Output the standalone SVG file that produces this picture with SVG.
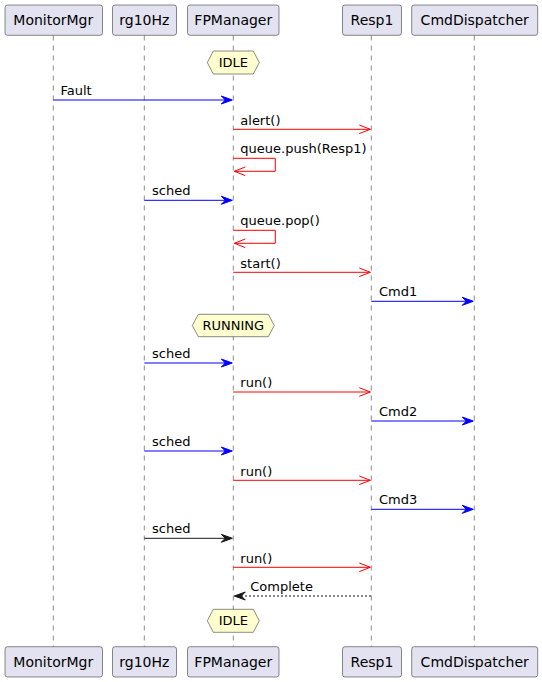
<svg xmlns="http://www.w3.org/2000/svg" width="542" height="682" viewBox="0 0 542 682">
<style>
.box{fill:#E2E2F0;stroke:#181818;stroke-width:0.5}
.life{stroke:#181818;stroke-width:0.5;stroke-dasharray:5,5;fill:none}
.pt{font-family:"DejaVu Sans",sans-serif;font-size:14px;fill:#000;text-anchor:middle}
.mt{font-family:"DejaVu Sans",sans-serif;font-size:13px;fill:#000}
.st{font-family:"DejaVu Sans",sans-serif;font-size:13px;fill:#000;text-anchor:middle}
.hex{fill:#FEFECE;stroke:#181818;stroke-width:0.5}
.blue{stroke:#0000FF;stroke-width:1;fill:none}
.red{stroke:#FF0000;stroke-width:1;fill:none}
.blk{stroke:#181818;stroke-width:1;fill:none}
.dash{stroke:#181818;stroke-width:1;fill:none;stroke-dasharray:2,2}
.bh{fill:#0000FF;stroke:#0000FF;stroke-width:1}
.kh{fill:#181818;stroke:#181818;stroke-width:1}
</style>
<g id="lifelines">
<line class="life" x1="53.3" y1="35.5" x2="53.3" y2="646.5"/>
<line class="life" x1="144.3" y1="35.5" x2="144.3" y2="646.5"/>
<line class="life" x1="233.3" y1="35.5" x2="233.3" y2="646.5"/>
<line class="life" x1="371.3" y1="35.5" x2="371.3" y2="646.5"/>
<line class="life" x1="474.3" y1="35.5" x2="474.3" y2="646.5"/>
</g>
<g id="MonitorMgr">
<rect class="box" x="5" y="5" width="97.5" height="30.3" rx="2.5"/><text class="pt" x="53.3" y="25">MonitorMgr</text>
<rect class="box" x="5" y="646.7" width="97.5" height="30.3" rx="2.5"/><text class="pt" x="53.3" y="666.7">MonitorMgr</text>
</g>
<g id="rg10Hz">
<rect class="box" x="112.5" y="5" width="64" height="30.3" rx="2.5"/><text class="pt" x="144.3" y="25">rg10Hz</text>
<rect class="box" x="112.5" y="646.7" width="64" height="30.3" rx="2.5"/><text class="pt" x="144.3" y="666.7">rg10Hz</text>
</g>
<g id="FPManager">
<rect class="box" x="187.5" y="5" width="91.5" height="30.3" rx="2.5"/><text class="pt" x="233.3" y="25">FPManager</text>
<rect class="box" x="187.5" y="646.7" width="91.5" height="30.3" rx="2.5"/><text class="pt" x="233.3" y="666.7">FPManager</text>
</g>
<g id="Resp1">
<rect class="box" x="342.5" y="5" width="59" height="30.3" rx="2.5"/><text class="pt" x="372" y="25">Resp1</text>
<rect class="box" x="342.5" y="646.7" width="59" height="30.3" rx="2.5"/><text class="pt" x="372" y="666.7">Resp1</text>
</g>
<g id="CmdDispatcher">
<rect class="box" x="411.7" y="5" width="126" height="30.3" rx="2.5"/><text class="pt" x="474.7" y="25">CmdDispatcher</text>
<rect class="box" x="411.7" y="646.7" width="126" height="30.3" rx="2.5"/><text class="pt" x="474.7" y="666.7">CmdDispatcher</text>
</g>
<g id="state-idle-1">
<polygon class="hex" points="207.3,62.5 213.3,51 253.3,51 259.3,62.5 253.3,74 213.3,74"/><text class="st" x="233.3" y="67">IDLE</text>
</g>
<g id="state-running">
<polygon class="hex" points="192.3,325.5 198.3,314.3 268.3,314.3 274.3,325.5 268.3,336.7 198.3,336.7"/><text class="st" x="233.3" y="330">RUNNING</text>
</g>
<g id="state-idle-2">
<polygon class="hex" points="207.3,620.8 213.3,609.3 253.3,609.3 259.3,620.8 253.3,632.3 213.3,632.3"/><text class="st" x="233.3" y="625.3">IDLE</text>
</g>
<g id="connectors">
<line class="blue" x1="53.3" y1="100" x2="230" y2="100"/><polygon class="bh" points="221.3,96 232.3,100 221.3,104 225.3,100"/>
<text class="mt" x="60.5" y="95">Fault</text>
<line class="red" x1="233.3" y1="129.3" x2="370.3" y2="129.3"/><polyline class="red" points="359.3,125 370.3,129.3 359.3,133.6"/>
<text class="mt" x="240.3" y="124.5">alert()</text>
<polyline class="red" points="233.3,158.3 275.3,158.3 275.3,171.3 234.3,171.3"/><polyline class="red" points="245.3,167 234.3,171.3 245.3,175.6"/>
<text class="mt" x="240.3" y="153.3">queue.push(Resp1)</text>
<line class="blue" x1="144.3" y1="200.3" x2="230" y2="200.3"/><polygon class="bh" points="221.3,196.3 232.3,200.3 221.3,204.3 225.3,200.3"/>
<text class="mt" x="152" y="195.3">sched</text>
<polyline class="red" points="233.3,230.3 275.3,230.3 275.3,243.3 234.3,243.3"/><polyline class="red" points="245.3,239 234.3,243.3 245.3,247.6"/>
<text class="mt" x="240.3" y="225.3">queue.pop()</text>
<line class="red" x1="233.3" y1="272.3" x2="370.3" y2="272.3"/><polyline class="red" points="359.3,268 370.3,272.3 359.3,276.6"/>
<text class="mt" x="240.3" y="267.5">start()</text>
<line class="blue" x1="371.3" y1="301.3" x2="471" y2="301.3"/><polygon class="bh" points="462.3,297.3 473.3,301.3 462.3,305.3 466.3,301.3"/>
<text class="mt" x="379" y="296.3">Cmd1</text>
<line class="blue" x1="144.3" y1="363" x2="230" y2="363"/><polygon class="bh" points="221.3,359 232.3,363 221.3,367 225.3,363"/>
<text class="mt" x="152" y="358">sched</text>
<line class="red" x1="233.3" y1="392" x2="370.3" y2="392"/><polyline class="red" points="359.3,387.7 370.3,392 359.3,396.3"/>
<text class="mt" x="240.3" y="387.2">run()</text>
<line class="blue" x1="371.3" y1="421" x2="471" y2="421"/><polygon class="bh" points="462.3,417 473.3,421 462.3,425 466.3,421"/>
<text class="mt" x="379" y="416">Cmd2</text>
<line class="blue" x1="144.3" y1="451" x2="230" y2="451"/><polygon class="bh" points="221.3,447 232.3,451 221.3,455 225.3,451"/>
<text class="mt" x="152" y="446">sched</text>
<line class="red" x1="233.3" y1="480.3" x2="370.3" y2="480.3"/><polyline class="red" points="359.3,476 370.3,480.3 359.3,484.6"/>
<text class="mt" x="240.3" y="475.5">run()</text>
<line class="blue" x1="371.3" y1="509.3" x2="471" y2="509.3"/><polygon class="bh" points="462.3,505.3 473.3,509.3 462.3,513.3 466.3,509.3"/>
<text class="mt" x="379" y="504.3">Cmd3</text>
<line class="blk" x1="144.3" y1="538.3" x2="230" y2="538.3"/><polygon class="kh" points="221.3,534.3 232.3,538.3 221.3,542.3 225.3,538.3"/>
<text class="mt" x="152" y="533.3">sched</text>
<line class="red" x1="233.3" y1="567.3" x2="370.3" y2="567.3"/><polyline class="red" points="359.3,563 370.3,567.3 359.3,571.6"/>
<text class="mt" x="240.3" y="562.5">run()</text>
<line class="dash" x1="237" y1="596" x2="371.3" y2="596"/><polygon class="kh" points="245.3,592 234.3,596 245.3,600 241.3,596"/>
<text class="mt" x="250.3" y="591">Complete</text>
</g>
</svg>
